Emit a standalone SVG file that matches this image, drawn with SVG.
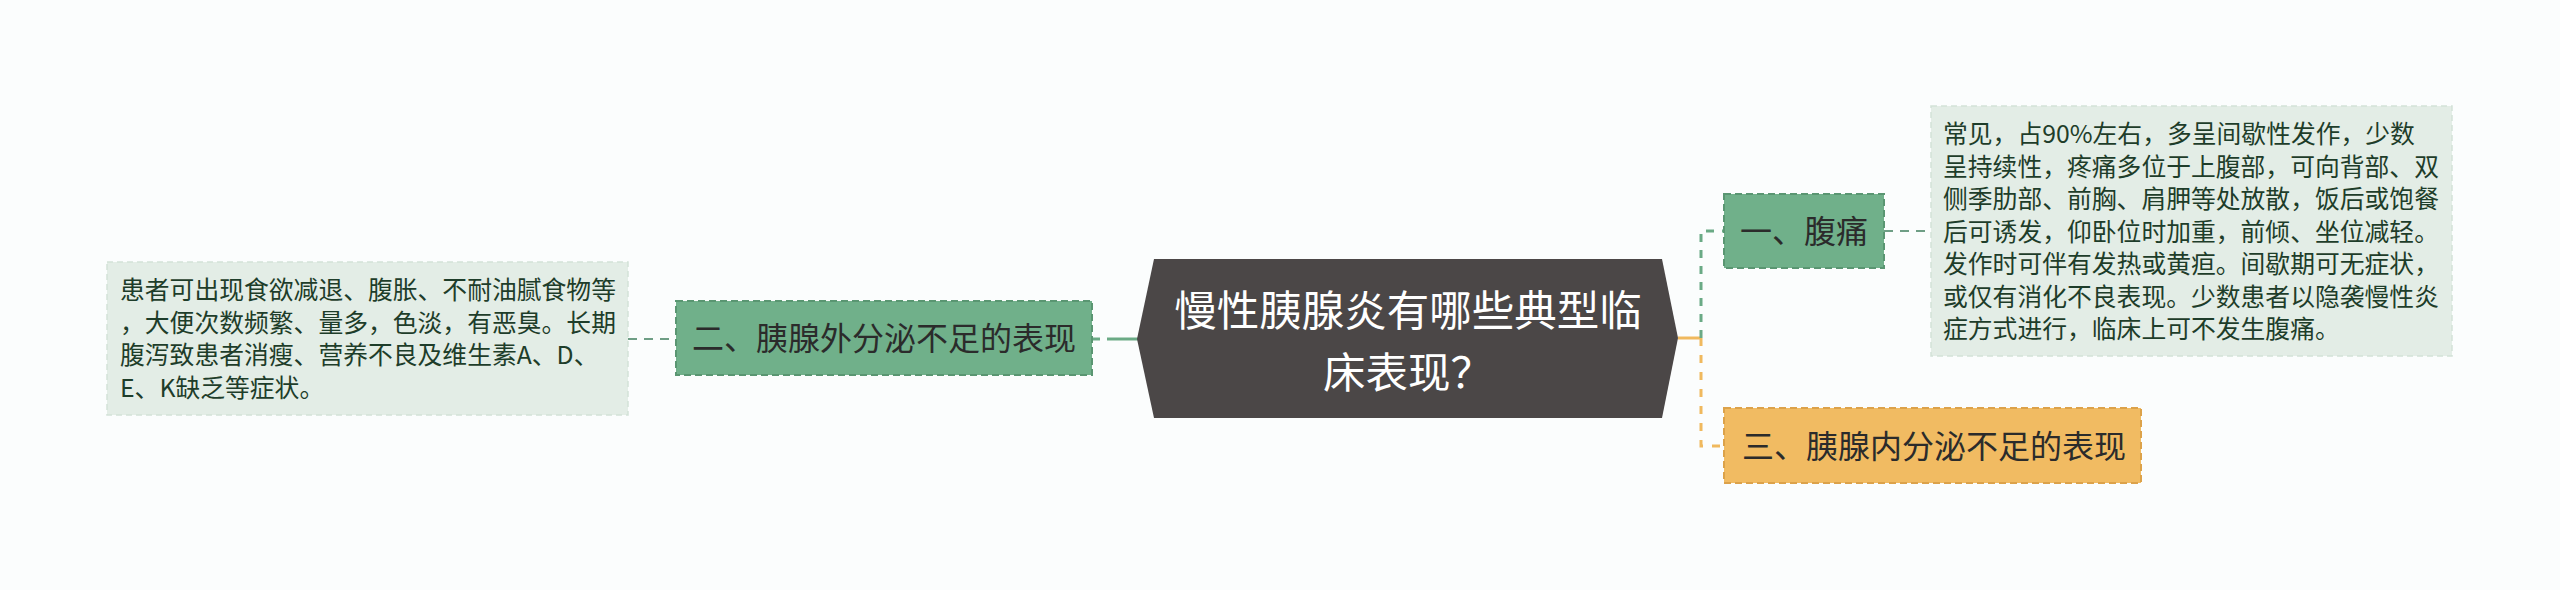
<svg xmlns="http://www.w3.org/2000/svg" width="2560" height="590" viewBox="0 0 2560 590">
<style>
text{font-family:"Noto Sans CJK SC","Noto Sans",sans-serif}
.root{fill:#4b4747}
.rt{fill:#ffffff;font-size:42.5px}
.gn{fill:#70b08a;stroke:#5a9672;stroke-width:2;stroke-dasharray:7 4}
.on{fill:#f1bb62;stroke:#dca24a;stroke-width:2;stroke-dasharray:7 4}
.nt{fill:#2b2b2b;font-size:32px}
.leaf{fill:#e3ede6;stroke:#d3e2d8;stroke-width:1.5;stroke-dasharray:6 4}
.lt{fill:#1e3d2a;font-size:24.8px}
.gs{stroke:#6aaa85;stroke-width:3;fill:none}
.gd{stroke:#6aaa85;stroke-width:3;fill:none;stroke-dasharray:8 8}
.os{stroke:#f0b95e;stroke-width:3;fill:none}
.od{stroke:#f0b95e;stroke-width:3;fill:none;stroke-dasharray:8 9}
.ld{stroke:#6e9e85;stroke-width:2;fill:none;stroke-dasharray:9 7}
</style>
<rect x="0" y="0" width="2560" height="590" fill="#fbfdfd"/>
<g id="connectors">
<line class="gs" x1="1107" y1="339" x2="1138" y2="339"/>
<line class="gd" x1="1092" y1="339" x2="1107" y2="339"/>
<line class="ld" x1="628" y1="339" x2="676" y2="339"/>
<line class="os" x1="1678" y1="338" x2="1701" y2="338"/>
<path class="gd" d="M1701 338 V231 H1724"/>
<path class="od" d="M1701 338 V446 H1724"/>
<line class="ld" x1="1884" y1="231" x2="1931" y2="231"/>
</g>
<g id="root">
<polygon class="root" points="1137,339 1154,259 1662,259 1678,338 1662,418 1154,418"/>
<text class="rt" x="1408" y="326" text-anchor="middle">慢性胰腺炎有哪些典型临</text>
<text class="rt" x="1408" y="388" text-anchor="middle">床表现？</text>
</g>
<g id="node-left">
<rect class="gn" x="676" y="301" width="416" height="74"/>
<text class="nt" x="692" y="350">二、胰腺外分泌不足的表现</text>
</g>
<g id="leaf-left">
<rect class="leaf" x="107" y="262" width="521" height="153"/>
<text class="lt" x="120" y="299">患者可出现食欲减退、腹胀、不耐油腻食物等</text>
<text class="lt" x="120" y="331.5">，大便次数频繁、量多，色淡，有恶臭。长期</text>
<text class="lt" x="120" y="364">腹泻致患者消瘦、营养不良及维生素A、D、</text>
<text class="lt" x="120" y="396.5">E、K缺乏等症状。</text>
</g>
<g id="node-pain">
<rect class="gn" x="1724" y="194" width="160" height="74"/>
<text class="nt" x="1740" y="243">一、腹痛</text>
</g>
<g id="leaf-pain">
<rect class="leaf" x="1931" y="106" width="521" height="250"/>
<text class="lt" x="1943" y="143">常见，占90%左右，多呈间歇性发作，少数</text>
<text class="lt" x="1943" y="175.5">呈持续性，疼痛多位于上腹部，可向背部、双</text>
<text class="lt" x="1943" y="208">侧季肋部、前胸、肩胛等处放散，饭后或饱餐</text>
<text class="lt" x="1943" y="240.5">后可诱发，仰卧位时加重，前倾、坐位减轻。</text>
<text class="lt" x="1943" y="273">发作时可伴有发热或黄疸。间歇期可无症状，</text>
<text class="lt" x="1943" y="305.5">或仅有消化不良表现。少数患者以隐袭慢性炎</text>
<text class="lt" x="1943" y="338">症方式进行，临床上可不发生腹痛。</text>
</g>
<g id="node-endo">
<rect class="on" x="1724" y="408" width="417" height="75"/>
<text class="nt" x="1742" y="458">三、胰腺内分泌不足的表现</text>
</g>
</svg>
